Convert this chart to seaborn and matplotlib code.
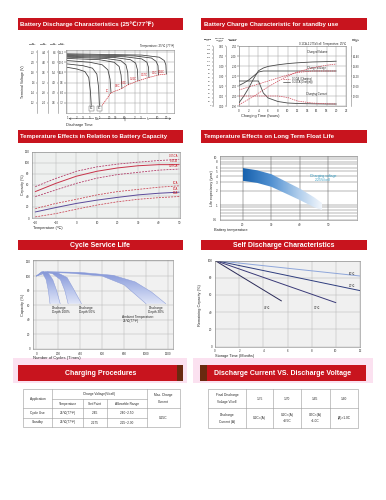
import numpy as np
import pandas as pd
import seaborn as sns
import matplotlib
matplotlib.use("Agg")
import matplotlib.pyplot as plt
from matplotlib.patches import Rectangle, Polygon
from matplotlib.colors import LinearSegmentedColormap
from matplotlib.ticker import NullLocator, FixedLocator

# ---------------- data ----------------
# discharge characteristics (12V scale, minutes)
rate_names = ['3C', '2C', '1C', '0.6C', '0.4C', '0.25C', '0.17C', '0.1C', '0.05C']
rate_minutes = [
    [1, 2.0, 3.5, 4.6, 5.2, 5.5],
    [1, 3.0, 6.0, 8.2, 9.3, 9.8],
    [1, 5, 12, 18, 21, 22.5],
    [1, 10, 28, 40, 46, 49],
    [1, 15, 45, 65, 74, 77],
    [1, 30, 90, 130, 148, 153],
    [1, 60, 200, 290, 325, 335],
    [1, 120, 400, 560, 640, 660],
    [1, 200, 700, 1000, 1120, 1160],
]
rate_volts = [
    [11.4, 11.2, 10.9, 10.2, 8.5, 6.9],
    [11.8, 11.6, 11.3, 10.6, 9.0, 6.9],
    [12.2, 12.0, 11.7, 11.1, 10.0, 8.4],
    [12.45, 12.3, 12.0, 11.5, 10.5, 8.9],
    [12.6, 12.45, 12.2, 11.7, 10.8, 9.35],
    [12.7, 12.55, 12.3, 11.9, 11.1, 9.8],
    [12.8, 12.65, 12.4, 12.0, 11.4, 10.2],
    [12.9, 12.75, 12.5, 12.1, 11.6, 10.5],
    [13.0, 12.85, 12.6, 12.2, 11.7, 10.6],
]
final_minutes = [12, 22.5, 49, 77, 153, 335, 660, 1160]
final_volts = [6.9, 8.4, 8.9, 9.35, 9.8, 10.2, 10.5, 10.6]
time_ticks = [1, 2, 3, 5, 10, 20, 30, 60, 120, 180, 300, 600, 1200]
time_labels = ['1', '2', '3', '5', '10', '20', '30', '60', '2', '3', '5', '10', '20']
volt_ticks = [7.2, 8.4, 9.6, 10.8, 12.0, 13.2]
battery_cols = ['2V', '4V', '6V']

# charge characteristics
charge_hours = [0, 1, 2, 3, 4, 5, 6, 8, 10, 12, 15, 18, 20]
volume_025 = [8, 25, 45, 68, 88, 95, 99, 103, 106, 108, 110, 111, 112]
volume_01 = [3, 10, 17, 24, 32, 40, 48, 62, 75, 85, 95, 102, 105]
voltage_025 = [2.105, 2.13, 2.16, 2.20, 2.24, 2.25, 2.25, 2.25, 2.25, 2.25, 2.25, 2.25, 2.25]
voltage_01 = [2.06, 2.075, 2.09, 2.105, 2.12, 2.135, 2.15, 2.18, 2.21, 2.235, 2.25, 2.25, 2.25]
current_025 = [0.25, 0.25, 0.25, 0.25, 0.25, 0.13, 0.08, 0.045, 0.03, 0.025, 0.022, 0.02, 0.02]
current_01 = [0.10, 0.10, 0.10, 0.10, 0.10, 0.10, 0.10, 0.10, 0.085, 0.05, 0.03, 0.022, 0.02]

# temperature vs capacity
temp_c = [-20, -10, 0, 10, 20, 30, 40, 50]
cap_names = ['0.05CA', '0.1CA', '0.25CA', '1CA', '2CA', '3CA']
cap_values = [
    [57, 72, 85, 93, 98, 101.5, 104.5, 106.5],
    [48, 63, 76, 85, 91, 95, 97, 97],
    [39, 51, 63, 72.5, 79, 83, 87, 89],
    [17, 26.5, 34, 42, 48, 52, 56, 58.5],
    [11, 19, 26.5, 32.5, 37.5, 42, 45, 47],
    [2, 8, 16, 23.5, 29.5, 34, 37, 39],
]

# float life
life_temp = [20, 25, 30, 35, 40, 45, 48]
life_high = [5.9, 5.3, 4.4, 3.1, 2.2, 1.45, 1.08]
life_low = [3.2, 2.9, 2.4, 1.75, 1.27, 0.9, 0.78]

# cycle service life (outer / inner edge of each band)
dod_names = ['Discharge\nDepth 100%', 'Discharge\nDepth 50%', 'Discharge\nDepth 30%']
cyc_outer_x = [[0, 60, 110, 150, 185, 218], [0, 80, 200, 280, 340, 412], [0, 100, 400, 700, 900, 1050, 1180]]
cyc_outer_y = [[100, 106, 104, 95, 80, 62], [100, 106, 104, 98, 82, 62], [100, 106, 105, 101, 92, 78, 62]]
cyc_inner_x = [[0, 50, 90, 110, 125], [0, 60, 150, 220, 260, 290], [0, 100, 300, 600, 800, 900, 1000]]
cyc_inner_y = [[100, 106, 95, 80, 62], [100, 106, 103, 95, 80, 62], [100, 105, 104, 100, 88, 75, 62]]

# self discharge
sd_names = ['10\u2103', '20\u2103', '30\u2103', '40\u2103']
sd_months = [[0, 12], [0, 12], [0, 10], [0, 5.5]]
sd_capacity = [[100, 82], [100, 65], [100, 51], [100, 53]]

# tables
charge_rows = [['Cycle Use', '25\u2103(77\u2109)', '2.45', '2.40~2.50'],
               ['Standby', '25\u2103(77\u2109)', '2.275', '2.25~2.30']]
final_voltage = ['1.75', '1.70', '1.65', '1.60']
discharge_current = ['0.2C>(A)', '0.2C<(A)\n<0.5C', '0.5C<(A)\n<1.0C', '(A)>1.0C']

# ---------------- figure ----------------
sns.set_theme(style="white")
plt.rcParams['font.family'] = ['Liberation Sans', 'DejaVu Sans']
plt.rcParams['axes.linewidth'] = 0.4

W, H = 386, 500
RED = '#c8141e'
fig = plt.figure(figsize=(W / 100, H / 100), dpi=100)


def box(x0, y0, x1, y1):
    return [x0 / W, 1 - y1 / H, (x1 - x0) / W, (y1 - y0) / H]


bg = fig.add_axes([0, 0, 1, 1])
bg.set_xlim(0, W)
bg.set_ylim(H, 0)
bg.axis('off')


def header(x0, y0, x1, y1, text, size, center=False):
    bg.add_patch(Rectangle((x0, y0), x1 - x0, y1 - y0, color=RED, lw=0))
    if center:
        bg.text((x0 + x1) / 2, (y0 + y1) / 2 + 0.3, text, ha='center', va='center',
                color='white', fontsize=size, fontweight='bold')
    else:
        bg.text(x0 + 2.5, (y0 + y1) / 2 + 0.3, text, ha='left', va='center',
                color='white', fontsize=size, fontweight='bold')


def style_ax(ax, face='white', gridc='#a0a0a0'):
    ax.set_facecolor(face)
    for sp in ax.spines.values():
        sp.set_color('#808080')
        sp.set_linewidth(0.4)
    ax.tick_params(labelsize=2.2, length=1.2, width=0.3, pad=0.8, colors='#333333')
    ax.grid(True, color=gridc, lw=0.35)
    ax.set_axisbelow(True)
    ax.set_xlabel('')
    ax.set_ylabel('')


def side_axis(ax, px_out, lo, hi, ticks, fmt, side='left', size=1.9):
    tw = ax.twinx()
    for s in ['top', 'bottom', 'right', 'left']:
        tw.spines[s].set_visible(s == side)
    tw.spines[side].set_position(('outward', px_out * 0.72))
    tw.spines[side].set_color('#808080')
    tw.spines[side].set_linewidth(0.4)
    tw.yaxis.set_ticks_position(side)
    tw.set_ylim(lo, hi)
    tw.set_yticks(ticks)
    tw.set_yticklabels([fmt.format(t) for t in ticks])
    tw.tick_params(labelsize=size, length=1, width=0.3, pad=0.5, colors='#333333')
    tw.grid(False)
    return tw


# headers
header(18, 18, 183, 29.5, 'Battery Discharge Characteristics (25\u2103/77\u2109)', 4.4)
header(201, 18, 367, 29.5, 'Battery Charge Characteristic for standby use', 4.4)
header(18, 130, 183, 143, 'Temperature Effects in Relation to Battery Capacity', 4.3)
header(201, 130, 367, 143, 'Temperature Effects on Long Term Float Life', 4.4)
header(18, 240, 183, 250, 'Cycle Service Life', 5.0, center=True)
header(201, 240, 367, 250, 'Self Discharge Characteristics', 5.0, center=True)
bg.add_patch(Rectangle((13, 358), 174, 25, color='#fbe1f0', lw=0))
bg.add_patch(Rectangle((193, 358), 180, 25, color='#fbe1f0', lw=0))
header(18, 365, 183, 381, 'Charging Procedures', 5.0, center=True)
bg.add_patch(Rectangle((177, 365), 6, 16, color='#6a2a10', lw=0))
header(200, 365, 366, 381, 'Discharge Current VS. Discharge Voltage', 5.0, center=True)
bg.add_patch(Rectangle((200, 365), 7, 16, color='#6a2a10', lw=0))

# ---- panel 1: discharge ----
dis_df = pd.DataFrame({
    'rate': [n for n, t in zip(rate_names, rate_minutes) for _ in t],
    'minutes': [m for t in rate_minutes for m in t],
    'volts': [v for vs in rate_volts for v in vs],
})
ax1 = fig.add_axes(box(66, 50, 174, 113))
ax1.set_xscale('log')
sns.lineplot(data=dis_df, x='minutes', y='volts', units='rate', estimator=None,
             color='#3a3a3a', lw=0.55, sort=False, ax=ax1)
sns.lineplot(x=final_minutes, y=final_volts, color=RED, lw=0.45,
             linestyle=(0, (2, 1.2)), ax=ax1)
ax1.set_xlim(0.91, 2000)
ax1.set_ylim(6.0, 13.45)
ax1.xaxis.set_major_locator(FixedLocator(time_ticks))
ax1.set_xticklabels(time_labels)
ax1.xaxis.set_minor_locator(NullLocator())
ax1.set_yticks(volt_ticks)
ax1.set_yticklabels([f'{v:.1f}' for v in volt_ticks])
style_ax(ax1)
ax1.tick_params(axis='y', labelsize=1.9, pad=0.5)
for i, name in enumerate(rate_names):
    xe, ye = rate_minutes[i][-1], rate_volts[i][-1]
    if i < 2:
        ax1.text(xe, 6.55, name, fontsize=1.9, ha='center', va='center',
                 bbox=dict(boxstyle='square,pad=0.25', fc='white', ec='#555', lw=0.3))
    else:
        ax1.text(xe * 0.9, ye + 0.25, name, fontsize=1.9, ha='right', va='center', color=RED)
for k, name in enumerate(battery_cols):
    f = [1 / 6, 1 / 3, 1 / 2][k]
    xs = [37, 48, 58][k]
    side_axis(ax1, 66 - xs, 6.0 * f, 13.45 * f, [v * f for v in volt_ticks], '{:.1f}')
    bg.text(xs - 4, 44, f'{name}\nBattery\n(V)', fontsize=1.7, ha='center', va='center',
            linespacing=0.9)
bg.text(62, 44, '12V\nBattery\n(V)', fontsize=1.7, ha='center', va='center', linespacing=0.9)
trans1 = ax1.get_xaxis_transform()
ax1.annotate('', xy=(2000, -0.09), xytext=(0.91, -0.09), xycoords=trans1,
             textcoords=trans1, arrowprops=dict(arrowstyle='<->', lw=0.35,
                                                mutation_scale=3, color='#333'))
ax1.plot([60, 60], [-0.06, -0.12], transform=trans1, clip_on=False, color='#333', lw=0.35)
ax1.text(8, -0.09, 'Min', transform=trans1, fontsize=2, ha='center', va='center',
         bbox=dict(fc='white', ec='none', pad=0.3))
ax1.text(300, -0.09, 'h', transform=trans1, fontsize=2, ha='center', va='center',
         bbox=dict(fc='white', ec='none', pad=0.3))
bg.text(66, 125, 'Discharge Time', fontsize=2.8, ha='left', va='center')
bg.text(23, 82, 'Terminal Voltage (V)', fontsize=2.6, rotation=90, ha='center', va='center')
bg.text(174, 46.5, 'Temperature: 25\u2103 (77\u2109)', fontsize=2.2, ha='right', va='center')

# ---- panel 2: charge ----
ax2 = fig.add_axes(box(239, 46, 346, 106))
ax2.set_xlim(0, 22)
ax2.set_ylim(1.9, 2.5)
ax2.set_xticks(range(0, 23, 2))
ax2.set_yticks([1.9, 2.0, 2.1, 2.2, 2.3, 2.4, 2.5])
ax2.set_yticklabels([f'{v:.2f}' for v in [1.9, 2.0, 2.1, 2.2, 2.3, 2.4, 2.5]])
style_ax(ax2)
ax2.tick_params(axis='y', labelsize=1.9, pad=0.5)
sns.lineplot(x=charge_hours, y=voltage_025, ax=ax2, color='#4a4a4a', lw=0.6)
sns.lineplot(x=charge_hours, y=voltage_01, ax=ax2, color='#d04858', lw=0.5, linestyle=(0, (2, 1.2)))
tq = side_axis(ax2, 26, 0, 150, list(range(0, 151, 10)), '{:d}', size=1.7)
tc = side_axis(ax2, 13, 0, 0.6, [0, 0.1, 0.2, 0.3, 0.4, 0.5, 0.6], '{:.2f}')
side_axis(ax2, 5, 11.4, 15.0, [12.0, 12.6, 13.2, 13.8, 14.4], '{:.2f}', side='right')
sns.lineplot(x=charge_hours, y=volume_025, ax=tq, color='#4a4a4a', lw=0.6)
sns.lineplot(x=charge_hours, y=volume_01, ax=tq, color='#d04858', lw=0.5, linestyle=(0, (2, 1.2)))
sns.lineplot(x=charge_hours, y=current_025, ax=tc, color='#4a4a4a', lw=0.6)
sns.lineplot(x=charge_hours, y=current_01, ax=tc, color='#d04858', lw=0.5, linestyle=(0, (2, 1.2)))
for t in (tq, tc):
    t.set_xlabel('')
    t.set_ylabel('')
ax2.text(16, 2.42, 'Charged Volume', fontsize=2, ha='center', va='bottom')
ax2.text(16, 2.255, 'Charge Voltage', fontsize=2, ha='center', va='bottom')
ax2.text(16, 2.00, 'Charging Current', fontsize=2, ha='center', va='bottom')
ax2.plot([9.0, 10.5], [2.17, 2.17], color='#d04858', lw=0.5, ls=(0, (2, 1.2)))
ax2.plot([9.0, 10.5], [2.14, 2.14], color='#4a4a4a', lw=0.5)
ax2.text(11, 2.17, '0.1CA  (Charging)', fontsize=1.8, va='center')
ax2.text(11, 2.14, '0.25CA (Charging)', fontsize=1.8, va='center')
for xs, txt in zip([208, 220, 233], ['Charge\nVolume\n(%)', 'Charging\nCurrent\n(CA)', 'Charging\nVoltage\n(V/Cell)']):
    bg.text(xs, 40, txt, fontsize=1.7, ha='center', va='center', linespacing=0.9)
bg.text(356, 40, 'Battery\nVoltage\n(V)', fontsize=1.7, ha='center', va='center', linespacing=0.9)
bg.text(346, 43.5, '0.1CA-2.275V/cell  Temperature: 25\u2103', fontsize=2.0, ha='right', va='center')
bg.text(241, 116, 'Charging Time (hours)', fontsize=2.8, ha='left', va='center')

# ---- panel 3: temperature vs capacity ----
ax3 = fig.add_axes(box(32, 152, 180, 218))
cap_colors = ['#b03060', '#c8334a', '#b03060', '#c84050', '#5b4a9a', '#c84050']
cap_solid = [False, True, False, False, True, False]
for vals, c, solid in zip(cap_values, cap_colors, cap_solid):
    sns.lineplot(x=temp_c, y=vals, ax=ax3, color=c, lw=0.7 if solid else 0.55,
                 linestyle='-' if solid else (0, (2.5, 1.5)))
ax3.set_xlim(-21.6, 50.4)
ax3.set_ylim(0, 120)
ax3.set_xticks(temp_c)
ax3.set_yticks(range(0, 121, 20))
style_ax(ax3, face='#eef0ef', gridc='#b8b8b8')
for name, vals in zip(cap_names, cap_values):
    ax3.text(49.5, vals[-1] + 2.2, name, fontsize=2, ha='right', va='bottom', color=RED)
bg.text(23, 185, 'Capacity (%)', fontsize=2.6, rotation=90, ha='center', va='center')
bg.text(33, 228.5, 'Temperature (\u2103)', fontsize=2.8, ha='left', va='center')

# ---- panel 4: float life ----
ax4 = fig.add_axes(box(220, 156, 357, 220))
ax4.set_yscale('log')
verts = list(zip(life_temp, life_high)) + list(zip(life_temp[::-1], life_low[::-1]))
band = Polygon(verts, closed=True, fc='none', ec='none')
ax4.add_patch(band)
blue_cmap = LinearSegmentedColormap.from_list('b', ['#1862ae', '#4f8fd0', '#a9c9ea', '#f6f9fd'])
im = ax4.imshow(np.linspace(0, 1, 256).reshape(1, -1), extent=[20, 48, 0.6, 7],
                aspect='auto', cmap=blue_cmap, origin='lower', zorder=2)
im.set_clip_path(band)
ax4.set_xlim(12, 60)
ax4.set_ylim(0.49, 10.5)
ax4.set_xticks([20, 30, 40, 50])
ax4.yaxis.set_major_locator(FixedLocator([0.5, 1, 2, 3, 4, 5, 6, 8, 10]))
ax4.set_yticklabels(['0.5', '1', '2', '3', '4', '5', '6', '8', '10'])
ax4.yaxis.set_minor_locator(FixedLocator([0.6, 0.7, 0.8, 0.9, 7, 9]))
style_ax(ax4, gridc='#555555')
ax4.grid(True, which='minor', axis='y', color='#555555', lw=0.3)
ax4.grid(True, which='major', axis='y', color='#555555', lw=0.3)
ax4.tick_params(which='minor', length=0)
ax4.text(48, 3.7, 'Charging voltage\n2.25V/cell', fontsize=2.5, color='#2f9cc4',
         ha='center', va='center', linespacing=1.0)
bg.text(212, 188, 'Life expectancy (year)', fontsize=2.6, rotation=90, ha='center', va='center')
bg.text(214, 230, 'Battery temperature', fontsize=2.8, ha='left', va='center')

# ---- panel 5: cycle service life ----
ax5 = fig.add_axes(box(33, 260, 173, 349))
cyc_cmap = LinearSegmentedColormap.from_list('c', ['#e8ecfa', '#b3c0ea', '#7f91d6'])
for ox, oy, ix, iy in zip(cyc_outer_x, cyc_outer_y, cyc_inner_x, cyc_inner_y):
    poly = Polygon(list(zip(ox, oy)) + list(zip(ix[::-1], iy[::-1])), closed=True,
                   fc='none', ec='none')
    ax5.add_patch(poly)
    img = ax5.imshow(np.linspace(0, 1, 256).reshape(-1, 1), extent=[0, 1250, 58, 108],
                     aspect='auto', cmap=cyc_cmap, origin='lower', zorder=2)
    img.set_clip_path(poly)
    sns.lineplot(x=ox, y=oy, ax=ax5, color='#8a9bd8', lw=0.35, sort=False)
    sns.lineplot(x=ix, y=iy, ax=ax5, color='#8a9bd8', lw=0.35, sort=False)
ax5.set_xlim(-30, 1245)
ax5.set_ylim(0, 122)
ax5.set_xticks([0, 200, 400, 600, 800, 1000, 1200])
ax5.set_yticks(range(0, 121, 20))
style_ax(ax5, face='#f1f1f1', gridc='#b5b5b5')
for name, xl in zip(dod_names, [145, 385, 1020]):
    ax5.text(xl, 54, name, fontsize=2.3, ha='left', va='center', linespacing=1.0)
ax5.text(785, 41, 'Ambient Temperature:\n25\u2103(77\u2109)', fontsize=2.3, ha='left',
         va='center', linespacing=1.0)
bg.text(23, 305, 'Capacity (%)', fontsize=2.8, rotation=90, ha='center', va='center')
bg.text(33, 358, 'Number of Cycles (Times)', fontsize=3.0, ha='left', va='center')

# ---- panel 6: self discharge ----
ax6 = fig.add_axes(box(215, 260.5, 360, 346.5))
sd_colors = ['#8ea6da', '#2e3d7e', '#3a3a78', '#2b2b58']
for xm, yc, c in zip(sd_months, sd_capacity, sd_colors):
    sns.lineplot(x=xm, y=yc, ax=ax6, color=c, lw=0.7)
ax6.set_xlim(0, 12)
ax6.set_ylim(0, 100)
ax6.set_xticks(range(0, 13, 2))
ax6.set_yticks(range(0, 101, 20))
style_ax(ax6, face='#f0f0f0', gridc='#b5b5b5')
for name, (tx, ty) in zip(sd_names, [(11.6, 84.5), (11.6, 70), (8.7, 45), (4.6, 45)]):
    ax6.text(tx, ty, name, fontsize=2.1, ha='right', va='center')
bg.text(200, 305, 'Remaining Capacity (%)', fontsize=2.8, rotation=90, ha='center', va='center')
bg.text(215, 356.5, 'Storage Time (Months)', fontsize=2.8, ha='left', va='center')

# ---- table 1: charging procedures ----
LC = '#9a9a9a'
bg.add_patch(Rectangle((23.3, 389), 156.7, 38.3, fc='white', ec=LC, lw=0.4))
for x in (51.7, 146.7):
    bg.plot([x, x], [389, 427.3], color=LC, lw=0.4)
for x in (83.3, 106.7):
    bg.plot([x, x], [399, 427.3], color=LC, lw=0.4)
bg.plot([51.7, 146.7], [399, 399], color=LC, lw=0.4)
bg.plot([23.3, 180], [408.3, 408.3], color=LC, lw=0.4)
bg.plot([23.3, 146.7], [417.7, 417.7], color=LC, lw=0.4)
TS = 2.3
bg.text(37.5, 398.7, 'Application', fontsize=TS, ha='center', va='center')
bg.text(99.2, 394, 'Charge Voltage(V/cell)', fontsize=TS, ha='center', va='center')
bg.text(163.3, 398.7, 'Max. Charge\n\nCurrent', fontsize=TS, ha='center', va='center', linespacing=0.9)
for x, t in zip([67.5, 95, 126.7], ['Temperature', 'Set Point', 'Allowable Range']):
    bg.text(x, 403.7, t, fontsize=TS, ha='center', va='center')
for y, row in zip([413, 422.5], charge_rows):
    for x, t in zip([37.5, 67.5, 95, 126.7], row):
        bg.text(x, y, t, fontsize=TS, ha='center', va='center')
bg.text(163.3, 417.8, '0.25C', fontsize=TS, ha='center', va='center')

# ---- table 2: discharge current vs voltage ----
bg.add_patch(Rectangle((208, 389), 150, 39.3, fc='white', ec=LC, lw=0.4))
for x in (246.3, 273, 301, 329.7):
    bg.plot([x, x], [389, 428.3], color=LC, lw=0.4)
bg.plot([208, 358], [408.3, 408.3], color=LC, lw=0.4)
bg.text(227, 398.7, 'Final Discharge\n\nVoltage V/cell', fontsize=TS, ha='center', va='center', linespacing=0.9)
bg.text(227, 418.3, 'Discharge\n\nCurrent (A)', fontsize=TS, ha='center', va='center', linespacing=0.9)
for x, v, c in zip([259.7, 287, 315.3, 343.8], final_voltage, discharge_current):
    bg.text(x, 398.7, v, fontsize=TS, ha='center', va='center')
    bg.text(x, 418.3, c, fontsize=TS, ha='center', va='center', linespacing=1.6)

fig.savefig('out.png', dpi=100)
